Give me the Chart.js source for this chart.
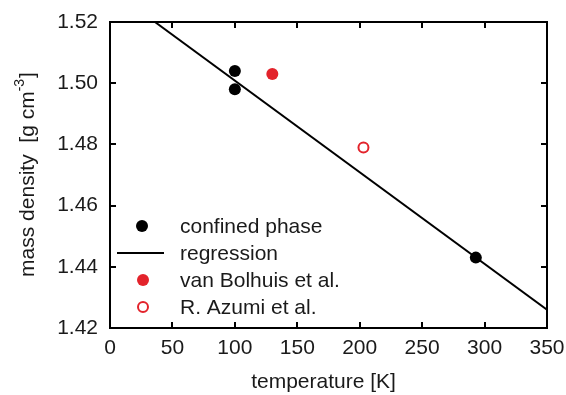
<!DOCTYPE html>
<html>
<head>
<meta charset="utf-8">
<script src="https://cdn.jsdelivr.net/npm/chart.js@4.4.1/dist/chart.umd.min.js"></script>
<style>
html,body{margin:0;padding:0;background:#fff;}
canvas{display:block;}
</style>
</head>
<body>
<canvas id="c" width="566" height="395"></canvas>
<script>
// ---- data ----
const confinedT = [100, 100, 293];
const confinedRho = [1.504, 1.498, 1.443];
const bolhuisT = [130];
const bolhuisRho = [1.503];
const azumiT = [203];
const azumiRho = [1.479];
const regressionT = [36, 350];
const regressionRho = [1.520, 1.426];
const xTicks = [0, 50, 100, 150, 200, 250, 300, 350];
const yTicks = [1.42, 1.44, 1.46, 1.48, 1.50, 1.52];
const legendLabels = ["confined phase", "regression", "van Bolhuis et al.", "R. Azumi et al."];
const xTitle = "temperature [K]";
const yTitleMain = "mass density  [g cm";
const yTitleSup = "-3";
const yTitleEnd = "]";

const RED = "#e3232b";
const INK = "#1a1a1a";
const FONT = "'Liberation Sans', Arial, sans-serif";
const FS = 21;

const pts = (xs, ys) => xs.map((x, i) => ({x: x, y: ys[i]}));

const frame = {
  id: "frame",
  afterDatasetsDraw(chart) {
    const ctx = chart.ctx;
    const a = chart.chartArea;
    const xs = chart.scales.x, ys = chart.scales.y;
    ctx.save();
    ctx.strokeStyle = "#000";
    ctx.lineWidth = 2;
    ctx.strokeRect(a.left, a.top, a.right - a.left, a.bottom - a.top);
    const tl = 6;
    ctx.beginPath();
    xTicks.forEach(v => {
      const px = Math.round(xs.getPixelForValue(v));
      ctx.moveTo(px, a.bottom); ctx.lineTo(px, a.bottom - tl);
      ctx.moveTo(px, a.top); ctx.lineTo(px, a.top + tl);
    });
    yTicks.forEach(v => {
      const py = Math.round(ys.getPixelForValue(v));
      ctx.moveTo(a.left, py); ctx.lineTo(a.left + tl, py);
      ctx.moveTo(a.right, py); ctx.lineTo(a.right - tl, py);
    });
    ctx.stroke();

    // x title
    ctx.fillStyle = INK;
    ctx.font = FS + "px " + FONT;
    ctx.textAlign = "center";
    ctx.textBaseline = "alphabetic";
    ctx.fillText(xTitle, (a.left + a.right) / 2 - 5, 388);

    // y title with superscript
    ctx.save();
    const cy = (a.top + a.bottom) / 2;
    ctx.translate(34, cy);
    ctx.rotate(-Math.PI / 2);
    ctx.font = FS + "px " + FONT;
    const w1 = ctx.measureText(yTitleMain).width;
    ctx.font = "14px " + FONT;
    const w2 = ctx.measureText(yTitleSup).width;
    ctx.font = FS + "px " + FONT;
    const w3 = ctx.measureText(yTitleEnd).width;
    let x0 = -(w1 + w2 + w3) / 2;
    ctx.textAlign = "left";
    ctx.fillText(yTitleMain, x0, 0);
    ctx.font = "14px " + FONT;
    ctx.fillText(yTitleSup, x0 + w1, -10);
    ctx.font = FS + "px " + FONT;
    ctx.fillText(yTitleEnd, x0 + w1 + w2 + 1, 0);
    ctx.restore();

    // legend
    const rows = [226, 253, 280, 307];
    const mx = 142, tx = 180;
    ctx.font = FS + "px " + FONT;
    ctx.textAlign = "left";
    ctx.textBaseline = "middle";
    ctx.fillStyle = "#000";
    ctx.beginPath(); ctx.arc(mx, rows[0], 6, 0, Math.PI * 2); ctx.fill();
    ctx.strokeStyle = "#000"; ctx.lineWidth = 2;
    ctx.beginPath(); ctx.moveTo(117, rows[1]); ctx.lineTo(164, rows[1]); ctx.stroke();
    ctx.fillStyle = RED;
    ctx.beginPath(); ctx.arc(mx + 1, rows[2], 6, 0, Math.PI * 2); ctx.fill();
    ctx.strokeStyle = RED; ctx.fillStyle = "#fff";
    ctx.beginPath(); ctx.arc(mx + 1, rows[3], 5, 0, Math.PI * 2); ctx.fill(); ctx.stroke();
    ctx.fillStyle = INK;
    legendLabels.forEach((t, i) => ctx.fillText(t, tx, rows[i] + 1));
    ctx.restore();
  }
};

new Chart(document.getElementById("c"), {
  type: "scatter",
  data: {
    datasets: [
      {
        label: legendLabels[1], type: "line", data: pts(regressionT, regressionRho),
        borderColor: "#000", borderWidth: 2, pointRadius: 0, fill: false, order: 5
      },
      {
        label: legendLabels[0], data: pts(confinedT, confinedRho),
        backgroundColor: "#000", borderColor: "#000", pointRadius: 6, borderWidth: 0, order: 1
      },
      {
        label: legendLabels[2], data: pts(bolhuisT, bolhuisRho),
        backgroundColor: RED, borderColor: RED, pointRadius: 6, borderWidth: 0, order: 2
      },
      {
        label: legendLabels[3], data: pts(azumiT, azumiRho),
        backgroundColor: "#fff", borderColor: RED, pointRadius: 5, borderWidth: 2, order: 3
      }
    ]
  },
  options: {
    responsive: false,
    animation: false,
    devicePixelRatio: 1,
    layout: { padding: { top: 22, right: 19, left: 0, bottom: 0 } },
    plugins: { legend: { display: false }, tooltip: { enabled: false } },
    scales: {
      x: {
        type: "linear", min: 0, max: 350,
        afterBuildTicks: s => { s.ticks = xTicks.map(v => ({value: v})); },
        afterFit: s => { s.height = 67; s.paddingLeft = 0; s.paddingRight = 0; },
        grid: { display: false, drawTicks: false },
        border: { display: false },
        ticks: { color: INK, font: { size: FS, family: FONT }, padding: 8, maxRotation: 0, autoSkip: false }
      },
      y: {
        type: "linear", min: 1.42, max: 1.52,
        afterBuildTicks: s => { s.ticks = yTicks.map(v => ({value: v})); },
        afterFit: s => { s.width = 110; s.paddingTop = 0; s.paddingBottom = 0; },
        grid: { display: false, drawTicks: false },
        border: { display: false },
        ticks: { color: INK, font: { size: FS, family: FONT }, padding: 12,
                 callback: v => Number(v).toFixed(2) }
      }
    }
  },
  plugins: [frame]
});
</script>
</body>
</html>
